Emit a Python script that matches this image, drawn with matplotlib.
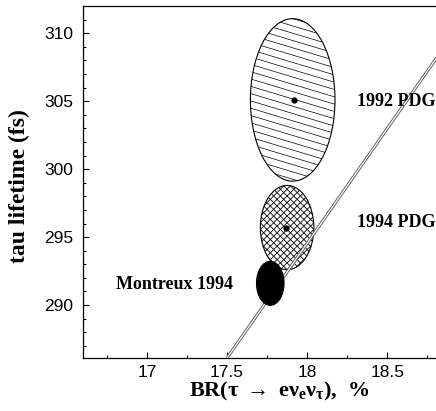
import numpy as np
import matplotlib
matplotlib.use("Agg")
from matplotlib import pyplot as plt
from matplotlib.patches import Ellipse

# measurements: BR(tau -> e nu nu) in %, tau lifetime in fs
labels = ["1992 PDG", "1994 PDG", "Montreux 1994"]
br_center = [17.91, 17.875, 17.77]
tau_center = [305.1, 295.7, 291.6]
br_halfwidth = [0.264, 0.167, 0.086]
tau_halfheight = [5.98, 3.1, 1.62]
# points marked at the centre of the PDG ellipses
dot_br = [17.92, 17.87]
dot_tau = [305.1, 295.7]

# lepton universality prediction line
line_br = [17.5, 18.85]
line_tau = [286.1, 308.9]

label_x = [18.31, 18.31, 16.81]
label_y = [305.0, 296.1, 291.5]

plt.rcParams['mathtext.fontset'] = 'custom'
plt.rcParams['mathtext.rm'] = 'Liberation Serif:bold'
plt.rcParams['mathtext.it'] = 'Liberation Serif:bold:italic'
plt.rcParams['mathtext.bf'] = 'Liberation Serif:bold'
plt.rcParams['mathtext.default'] = 'rm'

fig = plt.figure(figsize=(4.36, 4.11), dpi=100)
ax = fig.add_axes([0.190, 0.129, 0.812, 0.856])
ax.set_xlim(16.6, 18.81)
ax.set_ylim(286.1, 312.0)


def hatch(ax, patch, slope_px, spacing_px, lw=0.5):
    """draw hatch lines with a given on-screen slope, clipped by the patch"""
    p0 = ax.transData.transform((0, 0))
    p1 = ax.transData.transform((1, 1))
    sx, sy = p1 - p0  # pixels per data unit
    slope = slope_px * sx / sy
    step = spacing_px / sy
    xc, yc = patch.center
    w, h = patch.width / 2, patch.height / 2
    span = h + abs(slope) * w
    xs = np.array([xc - 1.2 * w, xc + 1.2 * w])
    for c in np.arange(-span, span + step, step):
        l, = ax.plot(xs, yc + c + slope * (xs - xc), color='black', lw=lw, zorder=2)
        l.set_clip_path(patch)


# 1992 PDG: single hatched ellipse
e92 = Ellipse((br_center[0], tau_center[0]), 2 * br_halfwidth[0], 2 * tau_halfheight[0],
              facecolor='white', edgecolor='black', lw=0.8, zorder=1)
ax.add_patch(e92)
hatch(ax, e92, -0.3, 7.3)

# 1994 PDG: cross hatched ellipse
e94 = Ellipse((br_center[1], tau_center[1]), 2 * br_halfwidth[1], 2 * tau_halfheight[1],
              facecolor='white', edgecolor='black', lw=0.8, zorder=1)
ax.add_patch(e94)
hatch(ax, e94, 1.0, 6.7, lw=0.6)
hatch(ax, e94, -1.0, 6.7, lw=0.6)

# double line
ax.plot(line_br, line_tau, color='0.35', lw=2.2, zorder=3, solid_capstyle='butt')
ax.plot(line_br, line_tau, color='white', lw=0.9, zorder=3, solid_capstyle='butt')

# Montreux 1994: solid ellipse
emo = Ellipse((br_center[2], tau_center[2]), 2 * br_halfwidth[2], 2 * tau_halfheight[2],
              facecolor='black', edgecolor='black', lw=0.8, zorder=4)
ax.add_patch(emo)

ax.plot(dot_br, dot_tau, 'o', color='black', ms=3.5, zorder=5)

for t, x, y in zip(labels, label_x, label_y):
    ax.text(x, y, t, family='Liberation Serif', weight='bold', fontsize=13,
            ha='left', va='center', zorder=6)

ax.set_xticks([17, 17.5, 18, 18.5])
ax.set_xticklabels(['17', '17.5', '18', '18.5'])
ax.set_xticks(np.arange(16.75, 18.81, 0.25), minor=True)
ax.set_yticks([290, 295, 300, 305, 310])
ax.set_yticks(np.arange(287, 312, 1), minor=True)
ax.tick_params(which='both', direction='in', labelsize=12.5, width=0.8)
ax.tick_params(which='major', length=4.5)
ax.tick_params(which='minor', length=2.5)
ax.tick_params(axis='y', pad=7)
ax.tick_params(axis='x', pad=5)
for lab in ax.get_xticklabels() + ax.get_yticklabels():
    lab.set_family('Liberation Sans')

ax.spines['right'].set_visible(False)
for s in ['left', 'bottom', 'top']:
    ax.spines[s].set_linewidth(0.9)

ax.set_ylabel('tau lifetime (fs)', family='Liberation Serif', weight='bold', fontsize=17)
ax.yaxis.set_label_coords(-0.15, 0.49)
ax.set_xlabel(r'BR($\tau\ \rightarrow\ e\nu_{e}\nu_{\tau}$),  $\mathit{\%}$',
              family='Liberation Serif', weight='bold', fontsize=16)
ax.xaxis.set_label_coords(0.555, -0.062)

plt.savefig('out.png', dpi=100)
